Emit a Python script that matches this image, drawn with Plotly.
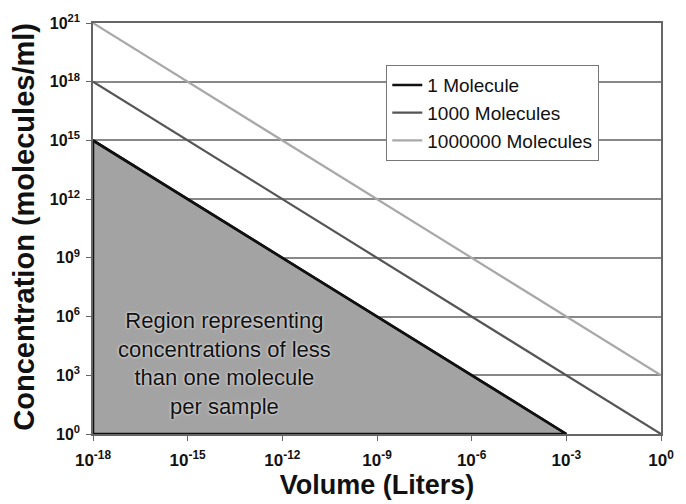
import plotly.graph_objects as go

# Data
series_names = ["1 Molecule", "1000 Molecules", "1000000 Molecules"]
series_volumes = [[1e-18, 1e-3], [1e-18, 1e0], [1e-18, 1e0]]
series_conc = [[1e15, 1e0], [1e18, 1e0], [1e21, 1e3]]
series_colors = ["#111111", "#555555", "#a8a8a8"]
series_widths = [2.5, 2.2, 2.2]

region_volumes = [1e-18, 1e-3, 1e-18, 1e-18]
region_conc = [1e15, 1e0, 1e0, 1e15]

x_tickvals = [1e-18, 1e-15, 1e-12, 1e-9, 1e-6, 1e-3, 1e0]
x_ticktext = ["<b>10<sup>-18</sup></b>", "<b>10<sup>-15</sup></b>", "<b>10<sup>-12</sup></b>",
              "<b>10<sup>-9</sup></b>", "<b>10<sup>-6</sup></b>", "<b>10<sup>-3</sup></b>",
              "<b>10<sup>0</sup></b>"]
y_tickvals = [1e0, 1e3, 1e6, 1e9, 1e12, 1e15, 1e18, 1e21]
y_ticktext = ["<b>10<sup>0</sup></b>", "<b>10<sup>3</sup></b>", "<b>10<sup>6</sup></b>",
              "<b>10<sup>9</sup></b>", "<b>10<sup>12</sup></b>", "<b>10<sup>15</sup></b>",
              "<b>10<sup>18</sup></b>", "<b>10<sup>21</sup></b>"]

FONT = "Liberation Sans, Arial, sans-serif"

fig = go.Figure()

fig.add_trace(go.Scatter(
    x=region_volumes, y=region_conc, mode="lines", fill="toself",
    fillcolor="#a3a3a3", line=dict(color="#111111", width=2.5),
    showlegend=False, hoverinfo="skip"))

for name, xs, ys, c, w in zip(series_names, series_volumes, series_conc, series_colors, series_widths):
    fig.add_trace(go.Scatter(x=xs, y=ys, mode="lines", name=name,
                             line=dict(color=c, width=w)))

fig.add_annotation(
    xref="paper", yref="paper", x=0.231, y=0.171, xanchor="center", yanchor="middle",
    text="Region representing<br>concentrations of less<br>than one molecule<br>per sample",
    showarrow=False, align="center",
    font=dict(family=FONT, size=22, color="#111111", shadow="0 0 3px white"))

# y-axis title placed as rotated annotation for precise position
fig.add_annotation(
    xref="paper", yref="paper", x=-0.121, y=0.505, xanchor="center", yanchor="middle",
    text="<b>Concentration (molecules/ml)</b>", textangle=-90, showarrow=False,
    font=dict(family=FONT, size=29, color="#111111"))

fig.update_layout(
    width=686, height=504,
    margin=dict(l=93, r=14, t=17, b=67),
    paper_bgcolor="white", plot_bgcolor="white",
    font=dict(family=FONT, color="#111111"),
    legend=dict(x=0.516, y=0.898, xanchor="left", yanchor="top",
                bgcolor="white", bordercolor="#777777", borderwidth=1.2,
                font=dict(family=FONT, size=19, color="#111111"),
                tracegroupgap=0, itemwidth=30),
    xaxis=dict(type="log", range=[-18, 0], tickvals=x_tickvals, ticktext=x_ticktext,
               showgrid=False, zeroline=False, showline=True, linecolor="#666666",
               linewidth=1.5, mirror=True, ticks="outside", ticklen=5, tickcolor="#666666",
               ticklabelstandoff=5,
               tickfont=dict(family=FONT, size=17, color="#111111"),
               title=dict(text="<b>Volume (Liters)</b>", font=dict(family=FONT, size=27, color="#111111"),
                          standoff=3)),
    yaxis=dict(type="log", range=[0, 21], tickvals=y_tickvals, ticktext=y_ticktext,
               showgrid=True, gridcolor="#888888", gridwidth=1.5, zeroline=False,
               showline=True, linecolor="#666666", linewidth=1.5, mirror=True,
               ticks="outside", ticklen=5, tickcolor="#666666",
               ticklabelstandoff=3,
               tickfont=dict(family=FONT, size=16, color="#111111")),
)

fig.write_html("out.html")
